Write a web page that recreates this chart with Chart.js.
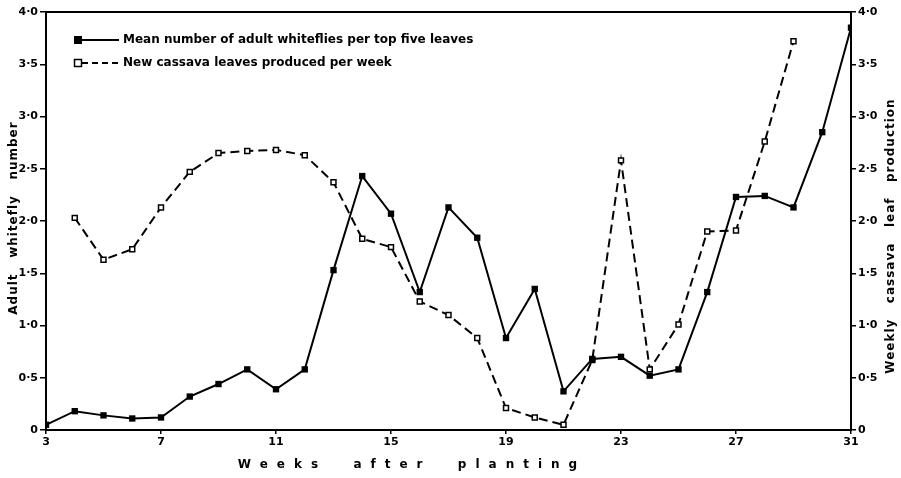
<!DOCTYPE html>
<html>
<head>
<meta charset="utf-8">
<script src="https://cdn.jsdelivr.net/npm/chart.js@4"></script>
<style>
  html, body { margin: 0; padding: 0; background: #fff; }
  #wrap { width: 901px; height: 478px; }
</style>
</head>
<body>
<div id="wrap"><canvas id="chart" width="901" height="478"></canvas></div>
<script>
// weeks after planting
const flyWeeks = [3, 4, 5, 6, 7, 8, 9, 10, 11, 12, 13, 14, 15, 16, 17, 18, 19, 20, 21, 22, 23, 24, 25, 26, 27, 28, 29, 30, 31];
const flyMeans = [0.05, 0.18, 0.14, 0.11, 0.12, 0.32, 0.44, 0.58, 0.39, 0.58, 1.53, 2.43, 2.07, 1.32, 2.13, 1.84, 0.88, 1.35, 0.37, 0.68, 0.70, 0.52, 0.58, 1.32, 2.23, 2.24, 2.13, 2.85, 3.85];

const leafWeeks = [4, 5, 6, 7, 8, 9, 10, 11, 12, 13, 14, 15, 16, 17, 18, 19, 20, 21, 22, 23, 24, 25, 26, 27, 28, 29];
const leafCounts = [2.03, 1.63, 1.73, 2.13, 2.47, 2.65, 2.67, 2.68, 2.63, 2.37, 1.83, 1.75, 1.23, 1.10, 0.88, 0.21, 0.12, 0.05, 0.67, 2.58, 0.58, 1.01, 1.90, 1.91, 2.76, 3.72];

const seriesNames = [
    "Mean number of adult whiteflies per top five leaves",
    "New cassava leaves produced per week"
];
const yTitleLeft = "Adult whitefly number";
const yTitleRight = "Weekly cassava leaf production";
const xTitle = "Weeks after planting";

const FONT = "DejaVu Sans";

function fmtTick(v) {
    if (v === 0) return "0";
    return v.toFixed(1).replace(".", "·");
}

// frame, legend and axis titles
const decor = {
    id: "decor",
    afterDraw(chart) {
        const ctx = chart.ctx;
        const a = chart.chartArea;
        ctx.save();
        ctx.strokeStyle = "#000";
        ctx.lineWidth = 2;
        ctx.strokeRect(a.left, a.top, a.right - a.left, a.bottom - a.top);

        // legend
        ctx.font = "bold 12px " + FONT;
        ctx.fillStyle = "#000";
        ctx.textBaseline = "middle";
        ctx.textAlign = "left";
        const lx = a.left + 32, rows = [a.top + 28, a.top + 51];
        // row 1 - solid
        ctx.lineWidth = 2;
        ctx.beginPath();
        ctx.moveTo(lx, rows[0]); ctx.lineTo(lx + 41, rows[0]);
        ctx.stroke();
        ctx.fillRect(lx - 4, rows[0] - 4, 8, 8);
        ctx.fillText(seriesNames[0], lx + 45, rows[0]);
        // row 2 - dashed
        ctx.setLineDash([6, 4]);
        ctx.beginPath();
        ctx.moveTo(lx + 4, rows[1]); ctx.lineTo(lx + 41, rows[1]);
        ctx.stroke();
        ctx.setLineDash([]);
        ctx.fillStyle = "#fff";
        ctx.fillRect(lx - 3.5, rows[1] - 3.5, 7, 7);
        ctx.lineWidth = 1.5;
        ctx.strokeRect(lx - 3.5, rows[1] - 3.5, 7, 7);
        ctx.fillStyle = "#000";
        ctx.fillText(seriesNames[1], lx + 45, rows[1]);

        // axis titles with wide letter spacing
        ctx.textAlign = "center";
        ctx.font = "bold 12px " + FONT;
        ctx.letterSpacing = "9px";
        ctx.fillText(xTitle.replace(/ /g, "  "), 412, 465);

        ctx.letterSpacing = "1px";
        ctx.save();
        ctx.translate(14, 218);
        ctx.rotate(-Math.PI / 2);
        ctx.fillText(yTitleLeft.replace(/ /g, "   "), 0, 0);
        ctx.restore();

        ctx.save();
        ctx.translate(891, 236);
        ctx.rotate(-Math.PI / 2);
        ctx.fillText(yTitleRight.replace(/ /g, "   "), 0, 0);
        ctx.restore();
        ctx.restore();
    }
};

const flyPoints = flyWeeks.map((w, i) => ({ x: w, y: flyMeans[i] }));
const leafPoints = leafWeeks.map((w, i) => ({ x: w, y: leafCounts[i] }));

const tickFont = { family: FONT, size: 11, weight: "bold" };

new Chart(document.getElementById("chart").getContext("2d"), {
    type: "line",
    data: {
        datasets: [
            {
                label: seriesNames[0],
                data: flyPoints,
                yAxisID: "y",
                borderColor: "#000",
                backgroundColor: "#000",
                borderWidth: 2,
                pointStyle: "rect",
                pointRadius: 4.5,
                pointBorderWidth: 0,
                tension: 0
            },
            {
                label: seriesNames[1],
                data: leafPoints,
                yAxisID: "y1",
                borderColor: "#000",
                backgroundColor: "#fff",
                borderWidth: 2,
                borderDash: [9, 5],
                pointStyle: "rect",
                pointRadius: 3.5,
                pointBorderWidth: 1.5,
                tension: 0
            }
        ]
    },
    options: {
        responsive: false,
        animation: false,
        layout: { padding: { top: 12, left: 0, right: 0, bottom: 0 } },
        plugins: {
            legend: { display: false },
            tooltip: { enabled: false }
        },
        scales: {
            x: {
                type: "linear",
                min: 3,
                max: 31,
                ticks: { stepSize: 4, color: "#000", font: tickFont, padding: 2 },
                grid: { drawOnChartArea: false, tickLength: 4, color: "#000", lineWidth: 1.5 },
                border: { display: false },
                afterFit(scale) { scale.height = 48; }
            },
            y: {
                position: "left",
                min: 0,
                max: 4,
                ticks: { stepSize: 0.5, color: "#000", font: tickFont, padding: 2, callback: fmtTick },
                grid: { drawOnChartArea: false, tickLength: 6, color: "#000", lineWidth: 1.5 },
                border: { display: false },
                afterFit(scale) { scale.width = 46; }
            },
            y1: {
                position: "right",
                min: 0,
                max: 4,
                ticks: { stepSize: 0.5, color: "#000", font: tickFont, padding: 2, callback: fmtTick },
                grid: { drawOnChartArea: false, tickLength: 5, color: "#000", lineWidth: 1.5 },
                border: { display: false },
                afterFit(scale) { scale.width = 50; }
            }
        }
    },
    plugins: [decor]
});
</script>
</body>
</html>
